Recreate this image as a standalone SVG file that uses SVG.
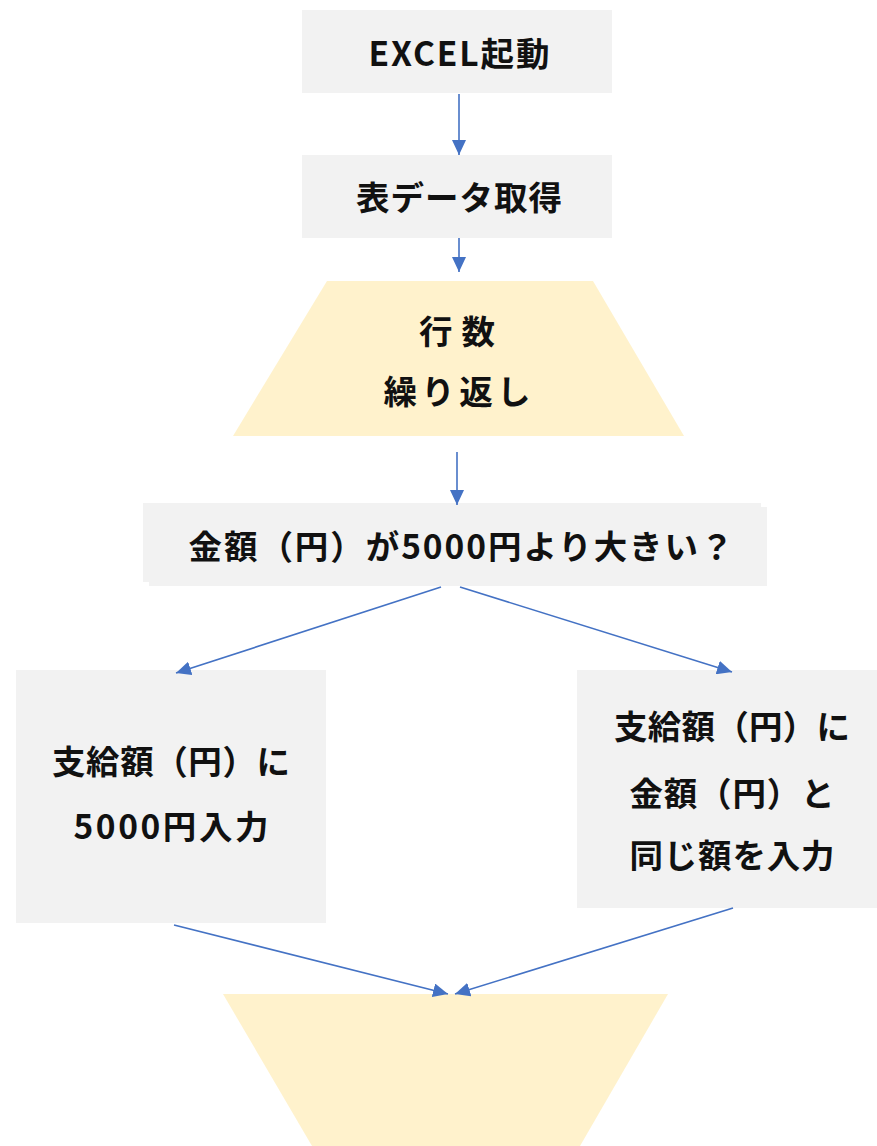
<svg xmlns="http://www.w3.org/2000/svg" width="877" height="1146" viewBox="0 0 877 1146">
<style>
.box{fill:#f2f2f2;}
.loop{fill:#fff2cc;}
.t{font-family:"Noto Sans CJK JP","Noto Sans",sans-serif;font-weight:bold;font-size:33.5px;fill:#111;text-anchor:middle;}
.c{stroke:#4472c4;stroke-width:1.6;fill:none;marker-end:url(#ah);}
</style>
<defs>
<marker id="ah" markerUnits="userSpaceOnUse" markerWidth="16" markerHeight="14" refX="15" refY="7" orient="auto">
<path d="M0,0 L15,7 L0,14 Z" fill="#4472c4"/>
</marker>
</defs>
<rect width="877" height="1146" fill="#ffffff"/>
<g id="n1">
<rect class="box" x="302" y="10" width="310" height="83"/>
<text class="t" x="459" y="66" textLength="181">EXCEL起動</text>
</g>
<g id="n2">
<rect class="box" x="302" y="155" width="310" height="83"/>
<text class="t" x="459" y="210" textLength="206">表データ取得</text>
</g>
<g id="n3">
<polygon class="loop" points="327,281 593,281 684,436 233,436"/>
<text class="t" x="457" y="344" textLength="76">行数</text>
<text class="t" x="457" y="404" textLength="147">繰り返し</text>
</g>
<g id="n4">
<rect class="box" x="143" y="503" width="618" height="79"/>
<rect class="box" x="149" y="507" width="618" height="79"/>
<text class="t" x="461" y="559" textLength="545">金額（円）が5000円より大きい？</text>
</g>
<g id="n5">
<rect class="box" x="16" y="670" width="310" height="253"/>
<text class="t" x="171" y="774" textLength="238">支給額（円）に</text>
<text class="t" x="171" y="839" textLength="195">5000円入力</text>
</g>
<g id="n6">
<rect class="box" x="577" y="670" width="300" height="238"/>
<text class="t" x="732" y="739" textLength="236">支給額（円）に</text>
<text class="t" x="732" y="806" textLength="205">金額（円）と</text>
<text class="t" x="732" y="868" textLength="205">同じ額を入力</text>
</g>
<g id="n7">
<polygon class="loop" points="223,994 668,994 580,1146 312,1146"/>
</g>
<g id="connectors">
<line class="c" x1="459" y1="94" x2="459" y2="155"/>
<line class="c" x1="459" y1="238" x2="459" y2="272"/>
<line class="c" x1="457" y1="452" x2="457" y2="505"/>
<line class="c" x1="441" y1="587" x2="176" y2="673"/>
<line class="c" x1="460" y1="587" x2="732" y2="672"/>
<line class="c" x1="174" y1="925" x2="448" y2="994"/>
<line class="c" x1="733" y1="908" x2="455" y2="994"/>
</g>
</svg>
